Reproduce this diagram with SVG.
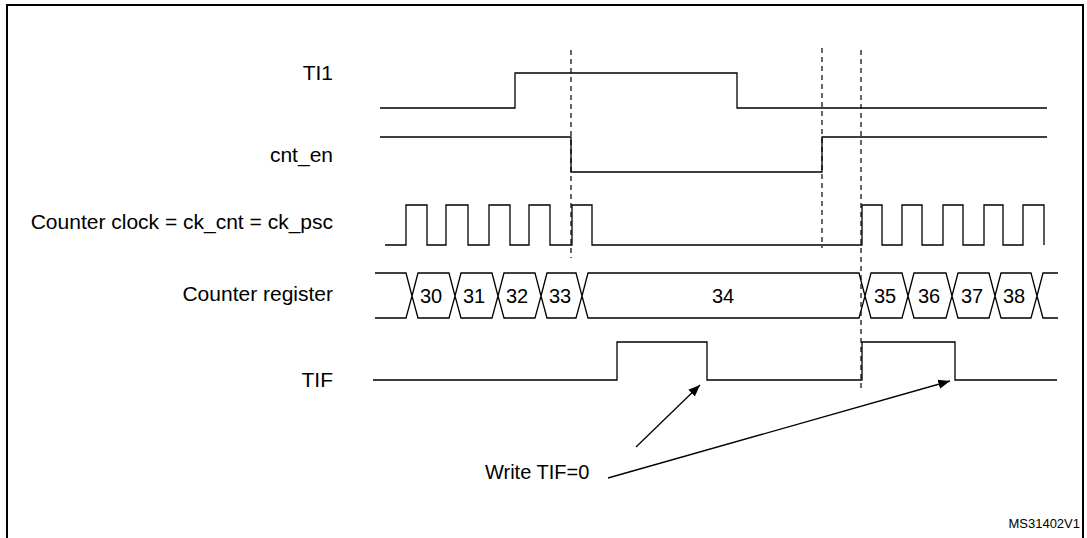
<svg xmlns="http://www.w3.org/2000/svg" width="1087" height="538" viewBox="0 0 1087 538">
<style>
.w{fill:none;stroke:#000;stroke-width:1.3}
.d{fill:none;stroke:#000;stroke-width:1.2;stroke-dasharray:5,4}
text{font-family:"Liberation Sans",Arial,sans-serif;font-size:20px;fill:#000}
.l{text-anchor:end;font-size:21px}
.c{text-anchor:middle}
</style>
<defs><marker id="a" viewBox="0 0 10 10" refX="10" refY="5" markerWidth="9" markerHeight="9" orient="auto"><path d="M0,1 L10,5 L0,9 z" fill="#000"/></marker></defs>
<rect x="7" y="5" width="1076" height="540" fill="#fff" stroke="#000" stroke-width="2"/>
<g id="TI1"><text class="l" x="333" y="80">TI1</text><path class="w" d="M380,108H515V73H737V108H1047"/></g>
<g id="cnt_en"><text class="l" x="333" y="162">cnt_en</text><path class="w" d="M380,137H571V172H822V137H1047"/></g>
<g id="clock"><text class="l" x="333" y="229">Counter clock = ck_cnt = ck_psc</text>
<path class="w" d="M385,245H406V205H427V245H446V205H468V245H489V205H510V245H529V205H550V245H572V205H592V245H862V205H882V245H902V205H922V245H943V205H963V245H984V205H1003V245H1023V205H1044V245"/></g>
<g id="counter"><text class="l" x="333" y="301">Counter register</text>
<path class="w" d="M375,273H406L412,296L406,318H375M412,296L418,273H449L455,296L449,318H418ZM455,296L461,273H492L498,296L492,318H461ZM498,296L504,273H535L541,296L535,318H504ZM541,296L547,273H576L582,296L576,318H547ZM582,296L588,273H859L865,296L859,318H588ZM865,296L871,273H902L908,296L902,318H871ZM908,296L914,273H946L952,296L946,318H914ZM952,296L958,273H989L995,296L989,318H958ZM995,296L1001,273H1031L1037,296L1031,318H1001ZM1037,296L1043,273H1058M1037,296L1043,318H1058"/>
<text class="c" x="431" y="303">30</text><text class="c" x="474" y="303">31</text><text class="c" x="517" y="303">32</text><text class="c" x="560" y="303">33</text><text class="c" x="723" y="303">34</text><text class="c" x="885" y="303">35</text><text class="c" x="929" y="303">36</text><text class="c" x="972" y="303">37</text><text class="c" x="1014" y="303">38</text></g>
<g id="TIF"><text class="l" x="333" y="387">TIF</text><path class="w" d="M373,380H617V342H707V380H862V342H955V380H1057"/></g>
<g id="connectors">
<path class="d" d="M571,50V258M822,48V248M861,50V392"/>
<path class="w" d="M636,447L700,385" marker-end="url(#a)"/>
<path class="w" d="M608,478L950,381" marker-end="url(#a)"/>
</g>
<text x="485" y="479">Write TIF=0</text>
<text x="1080" y="528" style="font-size:13px;text-anchor:end">MS31402V1</text>
</svg>
